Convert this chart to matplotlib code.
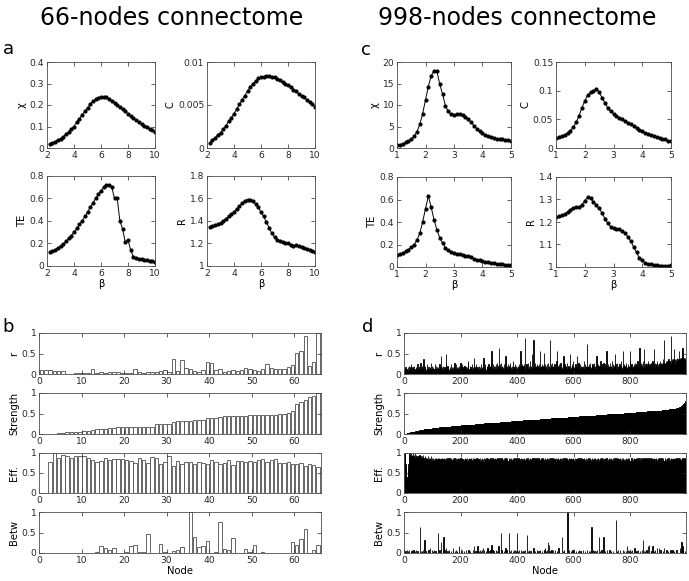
import matplotlib
matplotlib.use("Agg")
import matplotlib.pyplot as plt
import numpy as np
from matplotlib.ticker import FuncFormatter

# ---------------- data: 66-nodes connectome (panel a) ----------------
beta_66 = [2.2, 2.4, 2.6, 2.8, 3.0, 3.2, 3.4, 3.6, 3.8, 4.0,
           4.2, 4.4, 4.6, 4.8, 5.0, 5.2, 5.4, 5.6, 5.8, 6.0,
           6.2, 6.4, 6.6, 6.8, 7.0, 7.2, 7.4, 7.6, 7.8, 8.0,
           8.2, 8.4, 8.6, 8.8, 9.0, 9.2, 9.4, 9.6, 9.8, 10.0]
chi_66 = [0.018, 0.023, 0.030, 0.037, 0.044, 0.052, 0.064, 0.075, 0.090, 0.100,
          0.120, 0.136, 0.154, 0.171, 0.186, 0.205, 0.217, 0.226, 0.234, 0.238,
          0.238, 0.235, 0.228, 0.218, 0.209, 0.200, 0.190, 0.180, 0.170, 0.159,
          0.148, 0.139, 0.130, 0.120, 0.111, 0.104, 0.096, 0.090, 0.082, 0.073]
clust_66 = [0.0006, 0.0009, 0.0012, 0.0015, 0.0018, 0.0022, 0.0026, 0.0031, 0.0035, 0.0040,
            0.0045, 0.0051, 0.0056, 0.0061, 0.0066, 0.0071, 0.0075, 0.0078, 0.0081, 0.0082,
            0.0083, 0.0084, 0.0084, 0.0083, 0.0082, 0.0080, 0.0079, 0.0077, 0.0075, 0.0073,
            0.0071, 0.0068, 0.0066, 0.0063, 0.0061, 0.0059, 0.0056, 0.0054, 0.0051, 0.0048]
te_66 = [0.120, 0.130, 0.145, 0.160, 0.175, 0.195, 0.220, 0.245, 0.270, 0.300,
         0.335, 0.370, 0.400, 0.440, 0.480, 0.520, 0.560, 0.600, 0.640, 0.670,
         0.700, 0.720, 0.720, 0.700, 0.600, 0.600, 0.400, 0.330, 0.210, 0.230,
         0.140, 0.080, 0.070, 0.065, 0.060, 0.055, 0.050, 0.045, 0.040, 0.035]
ratio_66 = [1.350, 1.355, 1.360, 1.370, 1.385, 1.400, 1.420, 1.440, 1.460, 1.480,
            1.510, 1.530, 1.560, 1.580, 1.590, 1.590, 1.575, 1.550, 1.520, 1.480,
            1.440, 1.390, 1.340, 1.290, 1.255, 1.235, 1.220, 1.210, 1.200, 1.200,
            1.185, 1.180, 1.185, 1.180, 1.170, 1.160, 1.150, 1.140, 1.130, 1.120]

# ---------------- data: 998-nodes connectome (panel c) ----------------
beta_998 = [1.0, 1.1, 1.2, 1.3, 1.4, 1.5, 1.6, 1.7, 1.8, 1.9,
            2.0, 2.1, 2.2, 2.3, 2.4, 2.5, 2.6, 2.7, 2.8, 2.9,
            3.0, 3.1, 3.2, 3.3, 3.4, 3.5, 3.6, 3.7, 3.8, 3.9,
            4.0, 4.1, 4.2, 4.3, 4.4, 4.5, 4.6, 4.7, 4.8, 4.9, 5.0]
chi_998 = [0.6, 0.8, 1.0, 1.3, 1.6, 2.0, 2.7, 3.8, 5.5, 8.0,
           11.2, 14.3, 16.8, 18.0, 17.9, 14.8, 12.5, 9.8, 8.5, 7.8,
           7.6, 7.9, 7.9, 7.6, 7.2, 6.7, 6.0, 5.2, 4.5, 3.9,
           3.4, 3.0, 2.7, 2.5, 2.3, 2.2, 2.1, 2.0, 1.9, 1.8, 1.7]
clust_998 = [0.017, 0.019, 0.021, 0.023, 0.026, 0.030, 0.036, 0.045, 0.056, 0.070,
             0.082, 0.092, 0.097, 0.100, 0.103, 0.097, 0.088, 0.079, 0.070, 0.064,
             0.060, 0.056, 0.053, 0.050, 0.047, 0.044, 0.041, 0.038, 0.035, 0.032,
             0.030, 0.027, 0.025, 0.023, 0.021, 0.019, 0.018, 0.016, 0.015, 0.013, 0.012]
te_998 = [0.110, 0.115, 0.125, 0.140, 0.155, 0.175, 0.200, 0.240, 0.300, 0.400,
          0.520, 0.630, 0.530, 0.420, 0.330, 0.260, 0.210, 0.170, 0.150, 0.135,
          0.125, 0.120, 0.115, 0.110, 0.100, 0.095, 0.085, 0.075, 0.065, 0.058,
          0.052, 0.047, 0.042, 0.038, 0.034, 0.031, 0.028, 0.025, 0.022, 0.020, 0.018]
ratio_998 = [1.222, 1.225, 1.230, 1.235, 1.245, 1.255, 1.262, 1.267, 1.267, 1.275,
             1.295, 1.310, 1.305, 1.290, 1.275, 1.260, 1.240, 1.215, 1.195, 1.180,
             1.175, 1.170, 1.167, 1.160, 1.150, 1.135, 1.115, 1.090, 1.065, 1.040,
             1.030, 1.018, 1.013, 1.012, 1.010, 1.008, 1.005, 1.004, 1.004, 1.005, 1.010]

# ---------------- data: node measures, 66 nodes (panel b) ----------------
r_66 = [0.10, 0.10, 0.09, 0.08, 0.08, 0.08, 0.00, 0.00, 0.03, 0.02,
        0.02, 0.03, 0.12, 0.02, 0.04, 0.02, 0.05, 0.04, 0.05, 0.02,
        0.02, 0.03, 0.12, 0.05, 0.03, 0.06, 0.04, 0.05, 0.08, 0.10,
        0.04, 0.37, 0.08, 0.33, 0.15, 0.12, 0.08, 0.06, 0.10, 0.30,
        0.28, 0.10, 0.12, 0.05, 0.08, 0.10, 0.08, 0.10, 0.15, 0.13,
        0.10, 0.08, 0.12, 0.25, 0.15, 0.13, 0.12, 0.12, 0.16, 0.22,
        0.52, 0.55, 0.92, 0.20, 0.30, 1.00]
strength_66 = [0.00, 0.00, 0.01, 0.01, 0.02, 0.03, 0.04, 0.05, 0.05, 0.06,
               0.07, 0.08, 0.09, 0.11, 0.12, 0.13, 0.14, 0.15, 0.16, 0.16,
               0.17, 0.17, 0.17, 0.17, 0.18, 0.18, 0.18, 0.24, 0.24, 0.25,
               0.25, 0.30, 0.31, 0.32, 0.32, 0.32, 0.33, 0.34, 0.35, 0.38,
               0.39, 0.40, 0.42, 0.43, 0.44, 0.44, 0.45, 0.45, 0.45, 0.46,
               0.46, 0.46, 0.46, 0.46, 0.47, 0.47, 0.48, 0.50, 0.52, 0.55,
               0.73, 0.77, 0.83, 0.90, 0.93, 1.00]
eff_66 = [0.00, 0.00, 0.78, 1.00, 0.88, 0.95, 0.92, 0.87, 0.92, 0.92,
          0.93, 0.88, 0.82, 0.78, 0.80, 0.88, 0.82, 0.85, 0.86, 0.84,
          0.82, 0.80, 0.74, 0.88, 0.82, 0.75, 0.90, 0.88, 0.73, 0.78,
          0.92, 0.67, 0.80, 0.72, 0.78, 0.78, 0.72, 0.78, 0.75, 0.72,
          0.82, 0.78, 0.72, 0.76, 0.83, 0.70, 0.80, 0.80, 0.78, 0.80,
          0.77, 0.83, 0.86, 0.78, 0.82, 0.84, 0.75, 0.76, 0.77, 0.73,
          0.72, 0.74, 0.68, 0.72, 0.70, 0.65]
betw_66 = [0.00, 0.00, 0.00, 0.00, 0.00, 0.00, 0.00, 0.00, 0.00, 0.00,
           0.00, 0.00, 0.00, 0.03, 0.18, 0.13, 0.08, 0.13, 0.00, 0.00,
           0.02, 0.17, 0.20, 0.03, 0.03, 0.47, 0.00, 0.00, 0.23, 0.02,
           0.00, 0.05, 0.07, 0.15, 0.00, 1.00, 0.40, 0.15, 0.18, 0.30,
           0.00, 0.03, 0.75, 0.10, 0.07, 0.37, 0.00, 0.00, 0.10, 0.03,
           0.20, 0.00, 0.03, 0.00, 0.00, 0.00, 0.00, 0.00, 0.00, 0.28,
           0.20, 0.33, 0.58, 0.00, 0.08, 0.20]

# ---------------- data: node measures, 998 nodes (panel d) ----------------
# one letter per node: a = 0.00, b = 0.04, c = 0.08, ... z = 1.00
r_998_code = [
    "dcbdcebcdc bdcecbdfcb cdbecgcbdc ebdcbdfcbc dcebcdbgcd cbdcecbdhc bdcfcbdcej cdbecfbdcb dcgbcdecbd cbedhcbdfc",
    "bdcedcbdgc dbcfcdbecd cedbcgcdbe clcdbecdfc bdcecbdgcm cdbfcdebcd bcedcgbdce dcbecdfchc bdcgcdbecd cebdcfcdbh",
    "cdbecdgcbd ecdbfcdecb dcedbcgicd bdcfcedbcg cdbecdfckc dbcedgcbdc ecdbcfdceb dcgbdcedcf ckdcbedgcd cbdfcedcbg",
    "dcedfcdgeo cdecgdcfde dcfdecgdch decdfcqdeg cdhdcedfcd ecdgdcfdel dcedfcdgcd edcfdhcdec dfcdeciedc cedgdcfdce",
    "dcfdecgdec deocdfcgde cdfdegcwdc edcgdfcdhc dfcedicdfe cdemcdfcvd ecdhcedfcg dcfecdgdce dcoedfcdgc edcfndcedg",
    "cdfecgdchd ecdfcvdecg dcedhcdfce cdgdcedfci odcfdecgdc edchdcfdec dcfdlcedgc cedfcdhcde dcfdecdmcd cedgdcfcid",
    "dcedfcgdce cldfcedhcd edcgdcfdec cdfcedidcg dcedfcsdce cfdcgdecdh dcedfcdgce ecdhcdfdce dlcedgcdfc cedfcidcgd",
    "dcfdechdcg cdecdfocde dgcedfcdhc ecdfcidcge dcedfmcdgc edchcdfdce cdgdecfdic dcedocfdgd cedfcdhdce dcgdecfdci",
    "odefdgcede fdegdchedf edgdfeidec dfeqdgefdh edfgdeidfe pdfegdhefd egdfidefgd dfegdhefdi edgfepdfeh fdegidfegd",
    "egfhdgifeh fgehfjgfhe vgfhegifhg hfigehjgfi gihfxhgjih ihgjipighj ghjihkgiji hjioihjkhi jikhjqihjk ijhkjihk",
]
eff_998_code = [
    "zyzzxspmkh ihkmpsuwxz wyvxzuwyvx xzwvyuxwzv wxuyvwtxvw vxwuyvtwxu wvxtuwvyuw vtwxuvwtvu wuvtxvuwtv uwvtuvxuwt",
    "uvtwusvuwt vuwtuvsuvw tuvuwtvusv wutvuwvtuv uvwtusvwut vtuwvuvtwu uwvtuvwust vuwtvusvwu tvuwusvtuv wuvtwuvsuw",
    "utvuwstvuv tuvsuwtvus vutwusvtuw uvstuvwtus tvuwsuvtwu vusvtuwuvt uwtvsuvtuw sutvuwvtus vtuwsvutvu uwvstuvwtu",
    "tuvsutwvus vtuwusvtuv uswvtuvsut wvutsvuwtv usvtuwvust tvuswutvuw vsutwvtusu tuwvsutvwu usvtuvwsut vwtusvutwv",
    "uvtsuwvtus tuvwsutvuv sutvwusvtu vwustvuwts utvsuwvtuu svutwvsuvt uwtsvuvtws tvusuwvstu vutswuvtsu wvtusvutwv",
    "tusvuwtvsu vtwusvtuwv usvtuwsvut twvusvtuws vusvtwuvst utwvsuvtuw svtuwsvutv uwstuvwsut vtuswvutsv uwvtsuvwtu",
    "svutwusvtu vwtsuvtwus tuvswutvus wvsutvwust uvtswuvsvt tuwvsutvwu svutwvsutv uwtsvuwtsu vtusvwutsv utwvsuvtwu",
    "tvsuwvtusv wutsvuwvts utvswuvtsu vwutsvtuws usvtwuvsut vtwusvutwv suvtwsuvtu wtusvwutsv uvtswuvtsu vwstuvwtsu",
    "tuvsuwtvus vtsuwvtusv wusvtuwvst utvwsutvuw svtuwvsutv uwtsvuvtws tvusuwvstu vuwtsvutwv usvtwuvsut twvusvtuwv",
    "sutvwusvtu vwtsuvtwus tuvswutvus wvsutvwust uvtswuvsvt tuwvsutvwu svutwvsutv uwtsvuwtsu vtusvwutsv utwvsuvt",
]
betw_998_code = [
    "aaaaabaaac aaabaacaaa aaaaaabcaa aaacaaaaba aaacaaabaa aaaaaqaaab aaabaaaaca aaiaaabaaa aaaabacaaa adaaaaaaca",
    "aabaaacaaa abaaaaaaam aaabacaaaa ahaaaaabak aaacaaaaad aaabaaaaca aaaaabaaaa aabdaaaaab aaacaaabaa aaabaeaaaa",
    "aabaacaaaa aaabaaaaac aaaaaaaaca aabaaaaaaa aaaacaaaea aaabaaaaac eaaaaabaca aaabacaada aaacaaaaab aaacaddaaa",
    "aabaaacaaf aaacaabaaa aaaaacaaab aaaaeaaaaa aamaacabaa aaabaaaaad aacaaaaaaa amaaabaaca aaaabaaaca aaacaaaaba",
    "maabaaacaa aaacaaaaba aabaaaaaca aaaaalaaab aaacaaabaa aaaaaaaada aaabaaaaac aaaaabaaaa acaaaaaaba aaaaaaacad",
    "aabaaacaah aafaaaaaba aacaaaaaca aaaaacaaaa aabaaadaaa aaaaaaaaka abaaaacaaa aaaaaaaaza aaaacaaaaa baaaaacaab",
    "aacaaaabaa aaaaabaaca aaaabaaaaa aaaacaaaaa abaaaacaaa aaabaaaaba aaaqaaaaca aaaabaaaba aacaaaaaaa kaaabaaaca",
    "aaaaaakaaa aabaaaacaa aaaaaaacaa abaaaaaaba aaaaaaaaau aaabaaaaca aaaacaaaaa aaaaacaaab aaaaaabaae aaacaaaaba",
    "aabaaacaaa aaaaadaaaa aabaaaacaa aaaabaaaaa acaaaiaaab aaabaaaaca aaeaaafaaa aaaaabaaae aaabaaaaca aaaaaadaaa",
    "aaadaaacaa aaaaabaaaa daaaaaaaca aaabaaaaaa aaacaaaaba caaaaabaaa aaaacaaaaa aaaaadaaab aahaaeaaca aaabaaaa",
]
# strength is sorted: plateau levels and how many nodes sit on each
strength_998_levels = [0.00, 0.01, 0.02, 0.03, 0.04, 0.05, 0.06, 0.07, 0.08, 0.09,
                       0.10, 0.11, 0.12, 0.13, 0.14, 0.15, 0.16, 0.17, 0.18, 0.19,
                       0.20, 0.21, 0.22, 0.23, 0.24, 0.25, 0.26, 0.27, 0.28, 0.29,
                       0.30, 0.31, 0.32, 0.33, 0.34, 0.35, 0.36, 0.37, 0.38, 0.39,
                       0.40, 0.41, 0.42, 0.43, 0.44, 0.45, 0.46, 0.47, 0.48, 0.49,
                       0.50, 0.51, 0.52, 0.53, 0.54, 0.55, 0.56, 0.57, 0.58, 0.59,
                       0.60, 0.61, 0.62, 0.63, 0.64, 0.65, 0.66, 0.67, 0.68, 0.69,
                       0.70, 0.71, 0.72, 0.73, 0.74, 0.75, 0.76, 0.77, 0.78, 0.79,
                       0.80, 0.82]
strength_998_counts = [5, 5, 5, 5, 7, 7, 6, 7, 7, 6,
                       10, 10, 10, 10, 12, 13, 12, 13, 17, 17,
                       16, 17, 17, 16, 17, 17, 16, 20, 20, 20,
                       20, 20, 20, 20, 20, 20, 20, 20, 20, 20,
                       20, 20, 20, 20, 20, 20, 20, 20, 20, 20,
                       20, 20, 20, 20, 20, 20, 20, 12, 13, 12,
                       13, 7, 7, 6, 3, 2, 3, 2, 3, 2,
                       2, 1, 1, 1, 1, 1, 1, 1, 1, 1,
                       1, 1]


def decode(rows):
    s = "".join("".join(r.split()) for r in rows)
    return np.array([(ord(ch) - ord("a")) / 25.0 for ch in s])


r_998 = decode(r_998_code)
eff_998 = decode(eff_998_code)
betw_998 = decode(betw_998_code)
strength_998 = np.repeat(strength_998_levels, strength_998_counts)

# ---------------- figure ----------------
W, H = 689, 581
fig = plt.figure(figsize=(W / 100, H / 100), dpi=100)
plt.rcParams["font.family"] = "DejaVu Sans"

TICK = 6.6
LAB = 7.2


def px_axes(left, top, right, bottom):
    return fig.add_axes([left / W, 1 - bottom / H, (right - left) / W, (bottom - top) / H])


def style(ax):
    ax.tick_params(direction="in", top=True, right=True, length=3, width=0.5,
                   labelsize=TICK, pad=2, colors="0.15")
    for s in ax.spines.values():
        s.set_linewidth(0.6)
        s.set_color("0.3")
    ax.yaxis.set_major_formatter(FuncFormatter(lambda v, p: "%g" % round(v, 6)))
    ax.xaxis.set_major_formatter(FuncFormatter(lambda v, p: "%g" % round(v, 6)))


def curve(ax, x, y, xlim, xticks, ylim, yticks, ylabel, xlabel=None):
    ax.plot(x, y, "-o", color="k", lw=0.7, ms=2.0, mec="k")
    ax.set_xlim(*xlim)
    ax.set_ylim(*ylim)
    ax.set_xticks(xticks)
    ax.set_yticks(yticks)
    ax.set_ylabel(ylabel, fontsize=LAB, labelpad=2)
    if xlabel:
        ax.set_xlabel(xlabel, fontsize=LAB, labelpad=1)
    style(ax)


# panel a
xa = [2, 4, 6, 8, 10]
ax = px_axes(47, 62, 155, 148)
curve(ax, beta_66, chi_66, (2, 10), xa, (0, 0.4), [0, 0.1, 0.2, 0.3, 0.4], "χ")
ax = px_axes(207, 62, 315, 148)
curve(ax, beta_66, clust_66, (2, 10), xa, (0, 0.01), [0, 0.005, 0.01], "C")
ax = px_axes(47, 176, 155, 266)
curve(ax, beta_66, te_66, (2, 10), xa, (0, 0.8), [0, 0.2, 0.4, 0.6, 0.8], "TE", "β")
ax = px_axes(207, 176, 315, 266)
curve(ax, beta_66, ratio_66, (2, 10), xa, (1, 1.8), [1, 1.2, 1.4, 1.6, 1.8], "R", "β")

# panel c
xc = [1, 2, 3, 4, 5]
ax = px_axes(397, 62, 511, 148)
curve(ax, beta_998, chi_998, (1, 5), xc, (0, 20), [0, 5, 10, 15, 20], "χ")
ax = px_axes(556, 62, 671, 148)
curve(ax, beta_998, clust_998, (1, 5), xc, (0, 0.15), [0, 0.05, 0.1, 0.15], "C")
ax = px_axes(397, 177, 511, 267)
curve(ax, beta_998, te_998, (1, 5), xc, (0, 0.8), [0, 0.2, 0.4, 0.6, 0.8], "TE", "β")
ax = px_axes(556, 177, 671, 267)
curve(ax, beta_998, ratio_998, (1, 5), xc, (1, 1.4), [1, 1.1, 1.2, 1.3, 1.4], "R", "β")

# panel b
rows = [(333, 374), (393, 434), (453, 493), (512, 553)]
series_66 = [(r_66, "r"), (strength_66, "Strength"), (eff_66, "Eff."), (betw_66, "Betw")]
for (top, bot), (vals, lab) in zip(rows, series_66):
    ax = px_axes(39, top, 321, bot)
    pos = np.arange(len(vals)) + 0.6
    ax.bar(pos, vals, width=0.8, facecolor="white", edgecolor="0.3", linewidth=0.6)
    ax.set_xlim(0, 66.3)
    ax.set_ylim(0, 1)
    ax.set_xticks([0, 10, 20, 30, 40, 50, 60])
    ax.set_yticks([0, 0.5, 1])
    ax.set_ylabel(lab, fontsize=LAB, labelpad=2)
    style(ax)
ax.set_xlabel("Node", fontsize=LAB, labelpad=1)

# panel d
series_998 = [(r_998, "r"), (strength_998, "Strength"), (eff_998, "Eff."), (betw_998, "Betw")]
for (top, bot), (vals, lab) in zip(rows, series_998):
    ax = px_axes(404, top, 686, bot)
    pos = np.arange(len(vals)) + 0.5
    ax.bar(pos, vals, width=1.0, color="k", edgecolor="k", linewidth=0.6)
    ax.set_xlim(0, 998)
    ax.set_ylim(0, 1)
    ax.set_xticks([0, 200, 400, 600, 800])
    ax.set_yticks([0, 0.5, 1])
    ax.set_ylabel(lab, fontsize=LAB, labelpad=2)
    style(ax)
ax.set_xlabel("Node", fontsize=LAB, labelpad=1)

# titles and panel letters
fig.text(172 / W, 1 - 18 / H, "66-nodes connectome", fontsize=17, ha="center", va="center")
fig.text(517 / W, 1 - 18 / H, "998-nodes connectome", fontsize=17, ha="center", va="center")
for x, y, t in [(3, 54, "a"), (361, 55, "c"), (2, 332, "b"), (362, 332, "d")]:
    fig.text(x / W, 1 - y / H, t, fontsize=13, ha="left", va="baseline")

fig.savefig("out.png", dpi=100)
